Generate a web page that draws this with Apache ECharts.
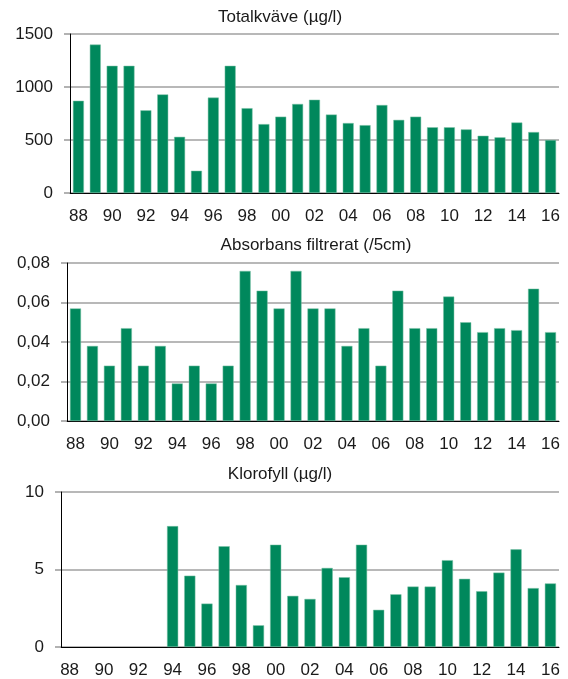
<!DOCTYPE html>
<html>
<head>
<meta charset="utf-8">
<script src="https://cdn.jsdelivr.net/npm/echarts@6/dist/echarts.min.js"></script>
<style>
  html, body { margin: 0; padding: 0; background: #fff; }
  #chart { width: 568px; height: 679px; }
</style>
</head>
<body>
<div id="chart"></div>
<script>
// Years 1988–2016, shown as two-digit labels
var years = ['88','89','90','91','92','93','94','95','96','97','98','99','00','01','02',
             '03','04','05','06','07','08','09','10','11','12','13','14','15','16'];

// Total nitrogen (µg/l)
var totalkvave = [870, 1400, 1200, 1200, 780, 930, 530, 210, 900, 1200, 800, 650, 720, 840, 880,
                  740, 660, 640, 830, 690, 720, 620, 620, 600, 540, 525, 665, 575, 500];

// Filtered absorbance (/5cm)
var absorbans = [0.057, 0.038, 0.028, 0.047, 0.028, 0.038, 0.019, 0.028, 0.019, 0.028, 0.076, 0.066, 0.057, 0.076, 0.057,
                 0.057, 0.038, 0.047, 0.028, 0.066, 0.047, 0.047, 0.063, 0.050, 0.045, 0.047, 0.046, 0.067, 0.045];

// Chlorophyll (µg/l), no measurements before 1994
var klorofyll = [null, null, null, null, null, null, 7.8, 4.6, 2.8, 6.5, 4.0, 1.4, 6.6, 3.3, 3.1,
                 5.1, 4.5, 6.6, 2.4, 3.4, 3.9, 3.9, 5.6, 4.4, 3.6, 4.8, 6.3, 3.8, 4.1];

var titles = ['Totalkväve (µg/l)', 'Absorbans filtrerat (/5cm)', 'Klorofyll (µg/l)'];

var FONT = "'Liberation Sans', Arial, sans-serif";
var GREEN = '#00885c';
var TEXT = '#1a1a1a';

var grids = [
  { left: 70, right: 9, top: 34, height: 159 },
  { left: 67, right: 9, top: 263, height: 158 },
  { left: 61, right: 9, top: 492, height: 156 }
];
var titlePos = [{ x: 280, y: 9 }, { x: 316, y: 237 }, { x: 280, y: 466 }];
var yCfg = [
  { max: 1500, interval: 500, fmt: function (v) { return String(v); } },
  { max: 0.08, interval: 0.02, fmt: function (v) { return v.toFixed(2).replace('.', ','); } },
  { max: 10, interval: 5, fmt: function (v) { return String(v); } }
];
var seriesData = [totalkvave, absorbans, klorofyll];

var option = {
  animation: false,
  backgroundColor: '#fff',
  textStyle: { fontFamily: FONT },
  title: titles.map(function (t, i) {
    return {
      text: t,
      left: titlePos[i].x,
      top: titlePos[i].y,
      textAlign: 'center',
      padding: 0,
      textStyle: { fontFamily: FONT, fontSize: 17, fontWeight: 'normal', color: TEXT }
    };
  }),
  grid: grids,
  xAxis: grids.map(function (g, i) {
    return {
      type: 'category',
      gridIndex: i,
      data: years,
      axisLine: { lineStyle: { color: '#000', width: 1 } },
      axisTick: { show: false },
      axisLabel: { interval: 1, margin: 15, fontSize: 17, fontFamily: FONT, color: TEXT },
      splitLine: { show: false }
    };
  }),
  yAxis: grids.map(function (g, i) {
    return {
      type: 'value',
      gridIndex: i,
      min: 0,
      max: yCfg[i].max,
      interval: yCfg[i].interval,
      axisLine: { show: true, lineStyle: { color: '#000', width: 1 } },
      axisTick: { show: true, length: 6, lineStyle: { color: '#999', width: 1.5 } },
      axisLabel: { margin: 17, fontSize: 17, fontFamily: FONT, color: TEXT, formatter: yCfg[i].fmt },
      splitLine: { show: true, lineStyle: { color: '#a0a0a0', width: 1.5 } }
    };
  }),
  series: seriesData.map(function (d, i) {
    return {
      type: 'bar',
      xAxisIndex: i,
      yAxisIndex: i,
      data: d,
      barCategoryGap: '35%',
      itemStyle: { color: GREEN, borderColor: '#7cc3a6', borderWidth: 0.5 }
    };
  })
};

var chart = echarts.init(document.getElementById('chart'), null, { renderer: 'canvas' });
chart.setOption(option);
</script>
</body>
</html>
